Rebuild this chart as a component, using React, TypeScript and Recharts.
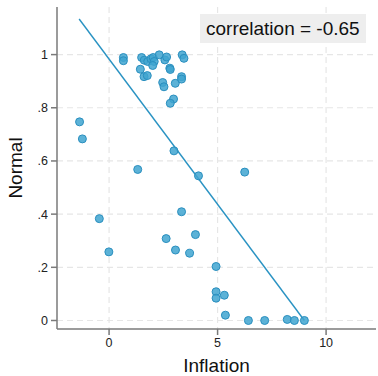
import React from 'react';
import {
  ScatterChart,
  Scatter,
  XAxis,
  YAxis,
  CartesianGrid,
  ReferenceLine,
  Customized,
} from 'recharts';

const inflation = [
  0.66, 0.66, 1.5, 1.62, 1.78, 1.93, 2.03, 2.08, 2.01, 2.31, 2.57, 2.65, 2.8, 2.82,
  3.37, 3.45, 1.44, 1.61, 1.76, 2.47, 2.53, 3.05, 3.34, 3.34, 2.97, 2.82,
  -1.36, -1.23, 2.99, 1.32, 4.12,
  -0.45, 3.34, 2.63, 3.98, -0.01, 3.06, 3.71, 4.93, 4.93, 4.93,
  6.25, 5.31, 5.36, 6.42, 7.17, 8.21, 8.54, 9.0,
];
const normal = [
  0.989, 0.977, 0.989, 0.979, 0.974, 0.984, 0.989, 0.974, 0.959, 0.999, 0.98, 0.991, 0.949, 0.944,
  0.999, 0.986, 0.945, 0.917, 0.921, 0.895, 0.879, 0.892, 0.917, 0.908, 0.833, 0.817,
  0.747, 0.683, 0.638, 0.568, 0.544,
  0.383, 0.409, 0.308, 0.323, 0.258, 0.265, 0.253, 0.203, 0.108, 0.084,
  0.558, 0.095, 0.02, 0.0, 0.0, 0.004, 0.0, 0.0,
];
const fitX = [-1.38, 9.0];
const fitY = [1.134, 0.0];
const xTicks = [0, 5, 10];
const yTicks = [0, 0.2, 0.4, 0.6, 0.8, 1];
const corrLabel = 'correlation = -0.65';

const points = inflation.map((x, i) => ({ x, y: normal[i] }));

const FONT = '"Liberation Sans", Arial, Helvetica, sans-serif';
const AXIS = '#7a7a7a';
const BLUE = '#2a93c3';

const fmtY = (v: number) => {
  if (v === 0) return '0';
  if (v === 1) return '1';
  return String(Number(v.toFixed(1))).replace(/^0/, '');
};

const Dot = (props: any) => {
  const { cx, cy } = props;
  if (cx == null || cy == null) return null;
  return <circle cx={cx} cy={cy} r={4} fill="#3fa4d0" fillOpacity={0.85} stroke="#2a8fbf" strokeWidth={1} />;
};

const CorrBox = () => (
  <g>
    <rect x={200} y={14} width={166} height={29} fill="#eeeeee" />
    <text x={206} y={35} fontSize={19} fontFamily={FONT} fill="#111">
      {corrLabel}
    </text>
  </g>
);

export default function App() {
  return (
    <div style={{ position: 'absolute', left: 0, top: 0, background: '#fff' }}>
      <ScatterChart
        width={378}
        height={376}
        margin={{ top: 7, right: 2, left: 0, bottom: 0 }}
      >
        <CartesianGrid
          stroke="#e6e6e6"
          strokeDasharray="6 4"
          strokeWidth={1.2}
          horizontalValues={yTicks}
          verticalValues={xTicks}
        />
        <XAxis
          type="number"
          dataKey="x"
          domain={[-2.4, 12.3]}
          ticks={xTicks}
          allowDataOverflow
          height={47}
          stroke={AXIS}
          strokeWidth={1.5}
          tickSize={6}
          tickMargin={3}
          tick={{ fill: '#222', fontSize: 12.5, fontFamily: FONT }}
          label={{
            content: (p: any) => {
              const vb = p.viewBox;
              return (
                <text
                  x={vb.x + vb.width / 2}
                  y={372}
                  textAnchor="middle"
                  fontSize={19}
                  fontFamily={FONT}
                  fill="#111"
                >
                  Inflation
                </text>
              );
            },
          }}
        />
        <YAxis
          type="number"
          dataKey="y"
          domain={[-0.032, 1.179]}
          ticks={yTicks}
          allowDataOverflow
          width={57}
          stroke={AXIS}
          strokeWidth={1.5}
          tickSize={6}
          tickMargin={3}
          tickFormatter={fmtY}
          tick={{ fill: '#222', fontSize: 12.5, fontFamily: FONT }}
          label={{
            content: (p: any) => {
              const vb = p.viewBox;
              const cy = vb.y + vb.height / 2;
              return (
                <text
                  x={22}
                  y={cy}
                  transform={`rotate(-90 22 ${cy})`}
                  textAnchor="middle"
                  fontSize={19}
                  fontFamily={FONT}
                  fill="#111"
                >
                  Normal
                </text>
              );
            },
          }}
        />
        <ReferenceLine
          segment={[
            { x: fitX[0], y: fitY[0] },
            { x: fitX[1], y: fitY[1] },
          ]}
          stroke={BLUE}
          strokeWidth={1.4}
        />
        <Scatter data={points} shape={<Dot />} isAnimationActive={false} />
        <Customized component={CorrBox} />
      </ScatterChart>
    </div>
  );
}
